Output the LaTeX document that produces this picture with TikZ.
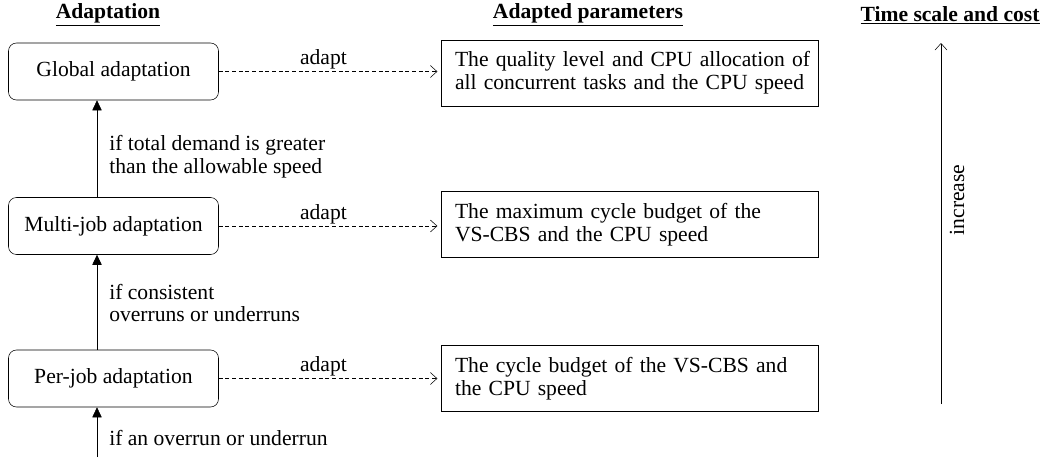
\documentclass[tikz,border=0pt]{standalone}
\usepackage{fontspec}
\setmainfont{Liberation Serif}
\usetikzlibrary{arrows.meta}
\begin{document}
\begin{tikzpicture}[x=0.75pt,y=-0.75pt,
  txt/.style={font=\fontsize{16.2}{17}\selectfont},
  hdr/.style={font=\fontsize{16.2}{18}\selectfont\bfseries},
  adbox/.style={txt, draw, rounded corners=6pt, minimum width=157.5pt, minimum height=42.75pt, inner sep=0pt},
  parbox/.style={txt, draw, minimum height=49.5pt, text width=262.5pt, inner xsep=10pt, inner ysep=0pt, align=left},
  adaptline/.style={dashed, dash pattern=on 3pt off 2pt, -{Straight Barb[length=5pt,width=9pt]}, shorten >=3pt},
  upline/.style={-{Triangle[length=7.5pt,width=7pt]}},
  cond/.style={txt, anchor=west, align=left, inner sep=0pt}
]
\useasboundingbox (0,0) rectangle (1045,461);

% headers
\node[hdr] (h1) at (108,15) {\underline{Adaptation}};
\node[hdr] (h2) at (588,15) {\underline{Adapted parameters}};
\node[hdr] (h3) at (950,15) {\underline{Time scale and cost}};

% adaptation boxes
\node[adbox] (G) at (113.5,71.5) {Global adaptation};
\node[adbox] (M) at (113.5,226) {Multi-job adaptation};
\node[adbox] (P) at (113.5,378.5) {Per-job adaptation};

% parameter boxes
\node[parbox] (PG) at (630,73) {\mbox{The quality level and CPU allocation of}\\\mbox{all concurrent tasks and the CPU speed}};
\node[parbox] (PM) at (630,224.5) {\mbox{The maximum cycle budget of the}\\\mbox{VS-CBS and the CPU speed}};
\node[parbox] (PP) at (630,378.5) {\mbox{The cycle budget of the VS-CBS and}\\\mbox{the CPU speed}};

% adapt arrows
\draw[adaptline] (G.east) -- node[txt, above, inner sep=1.5pt, xshift=-5pt] (a1) {adapt} (G.east -| PG.west);
\draw[adaptline] (M.east) -- node[txt, above, inner sep=1.5pt, xshift=-5pt] (a2) {adapt} (M.east -| PM.west);
\draw[adaptline] (P.east) -- node[txt, above, inner sep=1.5pt, xshift=-5pt] (a3) {adapt} (P.east -| PP.west);

% vertical escalation arrows
\coordinate (ax) at (97,0);
\coordinate (in) at (97,457);
\draw[upline] (M.north -| ax) -- (G.south -| ax);
\draw[upline] (P.north -| ax) -- (M.south -| ax);
\draw[upline] (in) -- (P.south -| ax);

\node[cond] (c1) at (109,157) {if total demand is greater\\than the allowable speed};
\node[cond] (c2) at (109,303) {if consistent\\overruns or underruns};
\node[cond] (c3) at (109,438) {if an overrun or underrun};

% time scale arrow
\coordinate (tb) at (941,404);
\coordinate (tt) at (941,43);
\draw[-{Straight Barb[length=5pt,width=9pt]}] (tb) -- (tt);
\node[txt, rotate=90] (inc) at (957,200) {increase};
\end{tikzpicture}
\end{document}
